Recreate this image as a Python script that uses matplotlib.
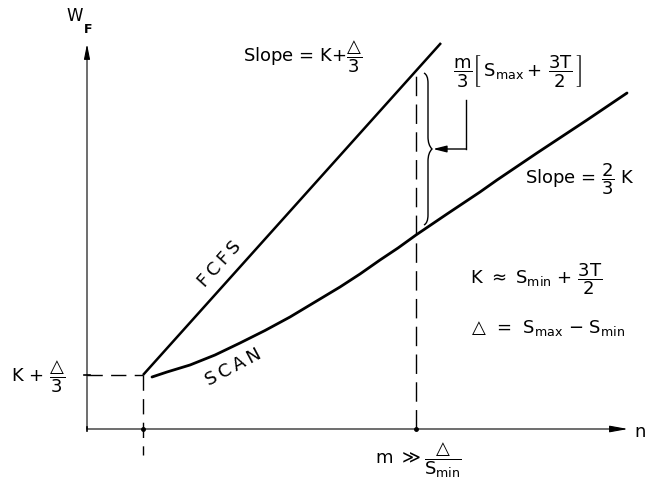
import matplotlib
matplotlib.use("Agg")
import matplotlib.pyplot as plt
from matplotlib.path import Path
from matplotlib.patches import PathPatch

plt.rcParams["font.family"] = ["DejaVu Sans"]
plt.rcParams["mathtext.fontset"] = "dejavusans"
plt.rcParams["mathtext.default"] = "regular"

# queue length n vs. mean wait W_F (schematic units)
n_start = 56          # point where both policies leave K + delta/3
w_start = 54
n_m = 329             # n = m >> delta / S_min

fcfs_n = [n_start, 354]
fcfs_w = [w_start, 386]

scan_n = [65, 80, 103, 128, 153, 178, 203, 228, 253, 273, 293, 311, 329,
          360, 393, 410, 450, 500, 540]
scan_w = [52, 57, 64, 74, 86, 98.5, 112, 127, 142, 155, 169, 181, 194,
          215, 237, 249, 276, 309, 336]

fcfs_at_m = 358       # FCFS wait at n = m
scan_at_m = 194       # SCAN wait at n = m

fig = plt.figure(figsize=(6.53, 4.91), dpi=100)
ax = fig.add_axes([0, 0, 1, 1])
ax.set_xlim(-87, 566)
ax.set_ylim(-62, 429)
ax.axis("off")

ink = "black"
fs = 13
thin = "\u2009"

# axes with arrow heads
ax.annotate("", xy=(0, 385), xytext=(0, 0),
            arrowprops=dict(arrowstyle="-|>,head_length=0.9,head_width=0.18",
                            lw=0.8, color=ink, shrinkA=0, shrinkB=0))
ax.annotate("", xy=(541, 0), xytext=(0, 0),
            arrowprops=dict(arrowstyle="-|>,head_length=1.1,head_width=0.2",
                            lw=0.8, color=ink, shrinkA=0, shrinkB=0))
ax.text(-12, 413, "W", fontsize=12, ha="center", va="center")
ax.text(1, 400, "F", fontsize=9, ha="center", va="center", weight="bold")
ax.text(553, -3, "n", fontsize=fs, ha="center", va="center")

# tick marks on the axes
ax.plot([-3, 3], [w_start, w_start], color=ink, lw=1.2)
ax.plot([0, 0], [-2, 2], color=ink, lw=1.2)
ax.plot([n_start], [0], "o", color=ink, ms=2.5)
ax.plot([n_m], [0], "o", color=ink, ms=2.5)

# dashed guides
dash = dict(color=ink, lw=1.0, linestyle=(0, (11, 6)))
ax.plot([0, n_start], [w_start, w_start], **dash)
ax.plot([n_start, n_start], [w_start, -26], **dash)
ax.plot([n_m, n_m], [0, fcfs_at_m], color=ink, lw=1.0, linestyle=(0, (14, 6)))

# the two curves
ax.plot(fcfs_n, fcfs_w, color=ink, lw=1.8, solid_capstyle="butt")
ax.plot(scan_n, scan_w, color=ink, lw=2.0, solid_capstyle="round",
        solid_joinstyle="round")

# curly brace between the curves at n = m
bx = n_m + 8
top, bot = fcfs_at_m - 2, scan_at_m + 10
mid = (top + bot) / 2
verts = [(bx, top), (bx + 4, top - 2), (bx + 4, top - 10), (bx + 4, mid + 12),
         (bx + 4, mid + 4), (bx + 8, mid), (bx + 4, mid - 4), (bx + 4, mid - 12),
         (bx + 4, bot + 10), (bx + 4, bot + 2), (bx, bot)]
codes = [Path.MOVETO, Path.CURVE3, Path.CURVE3, Path.LINETO,
         Path.CURVE3, Path.CURVE3, Path.CURVE3, Path.CURVE3,
         Path.LINETO, Path.CURVE3, Path.CURVE3]
ax.add_patch(PathPatch(Path(verts, codes), fill=False, lw=1.0, color=ink))

# leader from the bracket expression to the brace
ax.plot([379, 379], [329, mid], color=ink, lw=1.0)
ax.annotate("", xy=(bx + 9, mid), xytext=(379, mid),
            arrowprops=dict(arrowstyle="-|>,head_length=0.8,head_width=0.2",
                            lw=1.0, color=ink, shrinkA=0, shrinkB=0))

# labels
ax.text(156, 372, r"Slope = K+$\dfrac{\bigtriangleup}{3}$", fontsize=fs,
        ha="left", va="center")
ax.text(366, 358, r"$\dfrac{m}{3}\left[\,S_{max}+\,\dfrac{3T}{2}\,\right]$",
        fontsize=fs, ha="left", va="center")
ax.text(438, 250, r"Slope = $\dfrac{2}{3}$ K", fontsize=fs,
        ha="left", va="center")
ax.text(133, 165, thin.join("FCFS"), fontsize=fs, ha="center", va="center",
        rotation=48)
ax.text(146, 62, thin.join("SCAN"), fontsize=fs, ha="center", va="center",
        rotation=28)
ax.text(383, 150, r"K $\approx$ $S_{min}$ + $\dfrac{3T}{2}$", fontsize=fs,
        ha="left", va="center")
ax.text(384, 101, r"$\bigtriangleup$  =  $S_{max}$ $-$ $S_{min}$", fontsize=fs,
        ha="left", va="center")
ax.text(-22, 52, r"K + $\dfrac{\bigtriangleup}{3}$", fontsize=fs,
        ha="right", va="center")
ax.text(288, -31, r"m $\gg\dfrac{\bigtriangleup}{S_{min}}$", fontsize=fs,
        ha="left", va="center")

fig.savefig("out.png", dpi=100)
